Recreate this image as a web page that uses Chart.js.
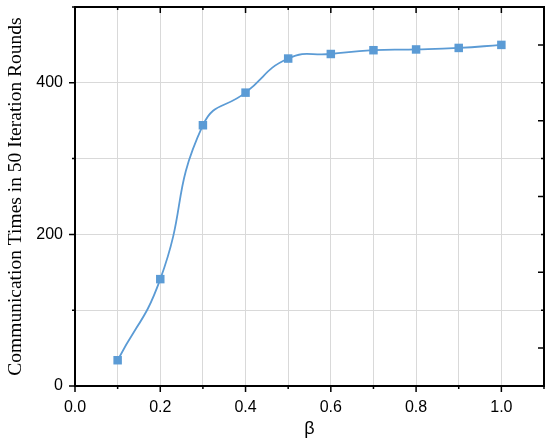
<!DOCTYPE html>
<html>
<head>
<meta charset="utf-8">
<script src="https://cdn.jsdelivr.net/npm/chart.js@4"></script>
<style>
  html, body { margin: 0; padding: 0; background: #fff; }
  #wrap { width: 550px; height: 446px; }
</style>
</head>
<body>
<div id="wrap"><canvas id="commChart" width="550" height="446"></canvas></div>
<script>
const betaValues = [0.1, 0.2, 0.3, 0.4, 0.5, 0.6, 0.7, 0.8, 0.9, 1.0];
const commTimes = [34, 141, 344, 387, 432, 438, 443, 444, 446, 450];
const xLabelTicks = [0.0, 0.2, 0.4, 0.6, 0.8, 1.0];
const yLabelTicks = [0, 200, 400];

const lineColor = '#5b9bd5';

// frame + tick marks, placed through the chart's own scales
const frameTicks = {
    id: 'frameTicks',
    afterDraw(chart) {
        const { ctx, chartArea: a, scales: { x, y } } = chart;
        ctx.save();
        ctx.strokeStyle = '#000';
        ctx.lineWidth = 1.5;
        ctx.beginPath();
        for (let i = 0; i <= 11; i++) {
            const px = x.getPixelForValue(i / 10);
            const len = i % 2 === 0 ? 6 : 3;
            ctx.moveTo(px, a.bottom); ctx.lineTo(px, a.bottom + len);
            ctx.moveTo(px, a.top); ctx.lineTo(px, a.top + len);
        }
        for (let v = 0; v <= 500; v += 100) {
            const py = y.getPixelForValue(v);
            const len = v % 200 === 0 ? 6 : 3;
            ctx.moveTo(a.left, py); ctx.lineTo(a.left - len, py);
        }
        for (let v = 0; v <= 500; v += 50) {
            const py = y.getPixelForValue(v);
            const len = v % 100 === 0 ? 3 : 6;
            ctx.moveTo(a.right, py); ctx.lineTo(a.right - len, py);
        }
        ctx.stroke();
        ctx.lineWidth = 2;
        ctx.strokeRect(a.left, a.top, a.right - a.left, a.bottom - a.top);
        ctx.restore();
    }
};

const ctx = document.getElementById('commChart').getContext('2d');
const chart = new Chart(ctx, {
    type: 'line',
    data: {
        datasets: [{
            data: betaValues.map((b, i) => ({ x: b, y: commTimes[i] })),
            borderColor: lineColor,
            backgroundColor: lineColor,
            borderWidth: 1.8,
            pointStyle: 'rect',
            pointRadius: 6,
            pointBorderWidth: 0,
            tension: 0.5,
            fill: false
        }]
    },
    options: {
        responsive: false,
        animation: false,
        layout: { padding: { top: 7, right: 5, left: 0, bottom: 0 } },
        plugins: { legend: { display: false }, tooltip: { enabled: false } },
        scales: {
            x: {
                type: 'linear',
                min: 0,
                max: 1.1,
                afterBuildTicks: s => { s.ticks = []; for (let i = 0; i <= 11; i++) s.ticks.push({ value: i / 10 }); },
                afterFit: s => { s.height = 60; s.paddingLeft = 0; s.paddingRight = 0; },
                grid: { color: '#d9d9d9', lineWidth: 1, drawTicks: false },
                border: { display: false },
                ticks: {
                    padding: 12,
                    color: '#000',
                    font: { family: 'Liberation Sans', size: 16 },
                    maxRotation: 0,
                    autoSkip: false,
                    callback: v => {
                        const hit = xLabelTicks.find(t => Math.abs(t - v) < 1e-6);
                        return hit === undefined ? '' : hit.toFixed(1);
                    }
                },
                title: {
                    display: true,
                    text: 'β',
                    color: '#000',
                    font: { family: 'Liberation Sans', size: 18 },
                    padding: { top: 0, bottom: 6 }
                }
            },
            y: {
                min: 0,
                max: 500,
                afterBuildTicks: s => { s.ticks = []; for (let v = 0; v <= 500; v += 100) s.ticks.push({ value: v }); },
                afterFit: s => { s.width = 75; s.paddingTop = 0; s.paddingBottom = 0; },
                grid: { color: '#d9d9d9', lineWidth: 1, drawTicks: false },
                border: { display: false },
                ticks: {
                    padding: 12,
                    color: '#000',
                    font: { family: 'Liberation Sans', size: 16 },
                    autoSkip: false,
                    callback: v => yLabelTicks.includes(v) ? String(v) : ''
                },
                title: {
                    display: true,
                    text: 'Communication Times in 50 Iteration Rounds',
                    color: '#000',
                    font: { family: 'Liberation Serif', size: 19.5 },
                    padding: { top: 4, bottom: 2 }
                }
            }
        }
    },
    plugins: [frameTicks]
});
</script>
</body>
</html>
